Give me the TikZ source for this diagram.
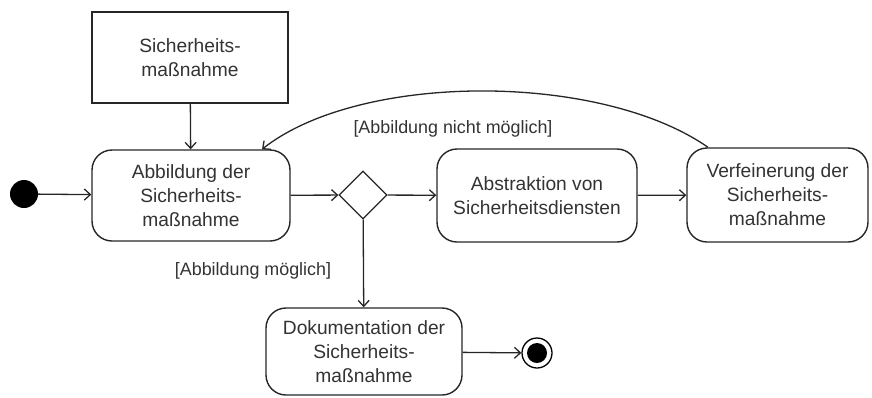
\documentclass[tikz,border=0pt]{standalone}
\usepackage{fontspec}
\setmainfont{Liberation Sans}
\usetikzlibrary{arrows.meta,shapes.geometric,calc}
\begin{document}
\begin{tikzpicture}[x=1pt,y=-1pt,
  every node/.style={font=\fontsize{19.2pt}{24pt}\selectfont, text=black!80},
  act/.style={draw=black!85, line width=1.4pt, rounded corners=20pt, align=center, inner sep=0pt},
  obj/.style={draw=black!85, line width=1.2pt, align=center, inner sep=0pt},
  flow/.style={draw=black!85, line width=1.3pt, -{Straight Barb[length=6pt,width=11pt,line width=1.3pt]}},
  guard/.style={font=\fontsize{17.9pt}{22pt}\selectfont, text=black!80, inner sep=0pt}
]
\useasboundingbox (0,0) rectangle (872,397);
\node[obj, minimum width=196pt, minimum height=91pt] (sm) at (190,57.5) {Sicherheits-\\maßnahme};
\node[circle, fill=black, inner sep=0pt, minimum size=28pt] (start) at (24,194) {};
\node[act, minimum width=198pt, minimum height=91pt] (abb) at (191,195.5) {Abbildung der\\Sicherheits-\\maßnahme};
\node[diamond, draw=black!85, line width=1.3pt, inner sep=0pt, minimum width=48pt, minimum height=48pt] (dec) at (363,195) {};
\node[act, minimum width=200pt, minimum height=93pt] (abs) at (537,195.5) {Abstraktion von\\Sicherheitsdiensten};
\node[act, minimum width=181pt, minimum height=94pt] (ver) at (777.5,195) {Verfeinerung der\\Sicherheits-\\maßnahme};
\node[act, minimum width=196pt, minimum height=87pt] (dok) at (364,351.5) {Dokumentation der\\Sicherheits-\\maßnahme};
\node[circle, draw=black, line width=1.3pt, fill=white, inner sep=0pt, minimum size=30pt] (end) at (537,353) {};
\node[circle, fill=black, inner sep=0pt, minimum size=20pt] (endin) at (end) {};
\node[guard] (g1) at (453,129) {[Abbildung nicht möglich]};
\node[guard] (g2) at (253,271) {[Abbildung möglich]};
\draw[flow] (sm) -- (abb);
\draw[flow] (start) -- (abb);
\draw[flow] (abb) -- (dec);
\draw[flow] (dec) -- (abs);
\draw[flow] (abs) -- (ver);
\draw[flow] (dec) -- (dok);
\draw[flow] (dok) -- (end);
\draw[flow] ($(ver.north)+(-69.5,0)$) .. controls (600,72) and (360,72) .. ($(abb.north)+(71,0)$);
\end{tikzpicture}
\end{document}
